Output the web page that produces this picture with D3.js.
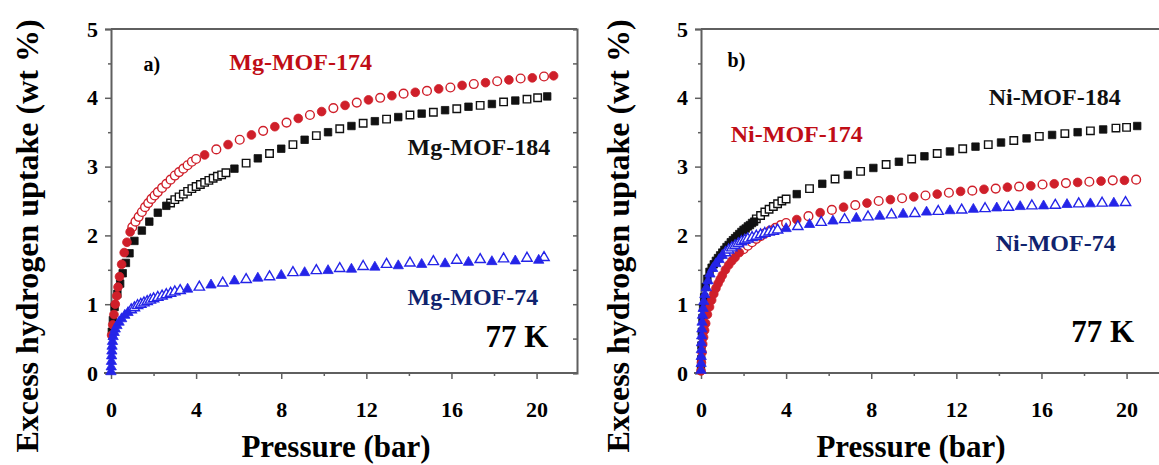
<!DOCTYPE html>
<html><head><meta charset="utf-8">
<script src="https://cdn.jsdelivr.net/npm/d3@7"></script>
<style>
html,body{margin:0;padding:0;background:#fff;}
svg{display:block;}
text{font-family:"Liberation Serif","Times New Roman",serif;font-weight:bold;}
</style></head><body>
<svg id="chart" width="1159" height="465"></svg>
<script>
// Excess H2 uptake at 77 K, [pressure (bar), uptake (wt %)]
// "Ads" points are drawn filled, "Des" points open.

// Panel a) Mg series
const mg174Ads = [[0.03,0.55],[0.08,0.7],[0.14,0.85],[0.2,1.0],[0.27,1.12],[0.33,1.25],[0.4,1.4],[0.5,1.58],[0.62,1.75],[0.75,1.9],[0.9,2.05],
  [4.4,3.17],[5.5,3.32],[6.6,3.46],[7.7,3.58],[8.8,3.7],[9.9,3.8],[11.0,3.89],[12.1,3.97],[13.2,4.03],[14.3,4.08],[15.4,4.13],[16.5,4.18],[17.6,4.22],[18.7,4.26],[19.8,4.29],[20.8,4.32]];
const mg174Des = [[1.0,2.12],[1.15,2.2],[1.3,2.27],[1.45,2.34],[1.6,2.41],[1.75,2.47],[1.9,2.53],[2.05,2.58],[2.2,2.63],[2.4,2.69],[2.6,2.75],[2.8,2.81],[3.0,2.87],[3.2,2.92],[3.4,2.97],[3.6,3.02],[3.8,3.07],[4.0,3.11],
  [4.95,3.25],[6.05,3.39],[7.15,3.52],[8.25,3.64],[9.35,3.75],[10.45,3.85],[11.55,3.93],[12.65,4.0],[13.75,4.06],[14.85,4.1],[15.95,4.15],[17.05,4.2],[18.15,4.24],[19.25,4.28],[20.35,4.31]];

const mg184Ads = [[0.04,0.6],[0.09,0.77],[0.17,0.96],[0.3,1.15],[0.43,1.3],[0.55,1.45],[0.7,1.6],[0.87,1.74],[1.1,1.92],[1.45,2.07],[1.8,2.2],[2.2,2.33],[2.6,2.43],
  [5.8,2.97],[6.9,3.12],[8.0,3.26],[9.1,3.39],[10.2,3.5],[11.3,3.59],[12.4,3.66],[13.5,3.72],[14.6,3.77],[15.7,3.82],[16.8,3.87],[17.9,3.91],[19.0,3.96],[20.5,4.02]];
const mg184Des = [[2.8,2.47],[3.0,2.52],[3.2,2.56],[3.4,2.6],[3.6,2.64],[3.8,2.68],[4.0,2.71],[4.2,2.74],[4.4,2.77],[4.6,2.8],[4.8,2.83],[5.0,2.86],[5.2,2.88],[5.4,2.91],
  [6.35,3.05],[7.45,3.19],[8.55,3.32],[9.65,3.45],[10.75,3.55],[11.85,3.63],[12.95,3.69],[14.05,3.75],[15.15,3.79],[16.25,3.84],[17.35,3.89],[18.45,3.94],[19.55,3.98],[20.05,4.0]];

const mg74Ads = [[0.0,0.03],[0.01,0.1],[0.02,0.18],[0.03,0.26],[0.04,0.33],[0.05,0.4],[0.07,0.47],[0.1,0.54],[0.15,0.6],[0.2,0.65],[0.28,0.7],[0.38,0.75],[0.5,0.8],[0.65,0.85],[0.8,0.89],
  [3.6,1.23],[4.7,1.29],[5.8,1.35],[6.9,1.39],[8.0,1.43],[9.1,1.47],[10.2,1.5],[11.3,1.52],[12.4,1.55],[13.5,1.57],[14.6,1.59],[15.7,1.6],[16.8,1.62],[17.9,1.63],[19.0,1.64],[20.1,1.65]];
const mg74Des = [[0.95,0.93],[1.1,0.96],[1.25,0.99],[1.4,1.01],[1.55,1.03],[1.7,1.05],[1.85,1.07],[2.0,1.09],[2.2,1.11],[2.4,1.13],[2.6,1.15],[2.8,1.17],[3.0,1.19],[3.25,1.21],
  [4.15,1.26],[5.25,1.32],[6.35,1.37],[7.45,1.41],[8.55,1.47],[9.65,1.5],[10.75,1.53],[11.85,1.56],[12.95,1.59],[14.05,1.61],[15.15,1.63],[16.25,1.65],[17.35,1.66],[18.45,1.67],[19.55,1.68],[20.35,1.69]];

// Panel b) Ni series
const ni184Ads = [[0.0,0.05],[0.01,0.2],[0.02,0.4],[0.04,0.6],[0.07,0.8],[0.1,0.95],[0.15,1.1],[0.22,1.25],[0.3,1.37],[0.4,1.47],[0.5,1.53],[0.6,1.58],[0.7,1.63],[0.8,1.67],[0.9,1.71],[1.0,1.75],[1.1,1.79],[1.2,1.83],[1.3,1.86],[1.4,1.9],[1.5,1.93],[1.6,1.96],[1.7,1.99],[1.8,2.02],[1.9,2.05],[2.0,2.08],[2.1,2.1],[2.2,2.13],[2.3,2.15],[2.4,2.18],[2.5,2.2],
  [4.5,2.6],[5.7,2.75],[6.9,2.88],[8.1,2.98],[9.3,3.07],[10.5,3.15],[11.7,3.22],[12.9,3.29],[14.1,3.35],[15.3,3.41],[16.5,3.46],[17.7,3.5],[18.9,3.54],[20.5,3.59]];
const ni184Des = [[2.6,2.24],[2.8,2.29],[3.0,2.34],[3.2,2.38],[3.4,2.42],[3.6,2.46],[3.8,2.5],[4.0,2.53],
  [5.1,2.68],[6.3,2.82],[7.5,2.93],[8.7,3.03],[9.9,3.11],[11.1,3.19],[12.3,3.26],[13.5,3.32],[14.7,3.38],[15.9,3.44],[17.1,3.48],[18.3,3.52],[19.5,3.56],[20.0,3.57]];

const ni174Ads = [[0.0,0.03],[0.02,0.15],[0.05,0.3],[0.08,0.42],[0.12,0.52],[0.17,0.62],[0.22,0.72],[0.3,0.85],[0.4,0.96],[0.5,1.06],[0.6,1.15],[0.7,1.23],[0.8,1.3],[0.9,1.36],[1.0,1.42],[1.15,1.5],[1.3,1.57],[1.45,1.63],[1.6,1.68],[1.8,1.75],
  [4.5,2.23],[5.6,2.33],[6.7,2.41],[7.8,2.47],[8.9,2.52],[10.0,2.56],[11.1,2.6],[12.2,2.64],[13.3,2.67],[14.4,2.7],[15.5,2.72],[16.6,2.75],[17.7,2.77],[18.8,2.79],[19.9,2.8]];
const ni174Des = [[2.0,1.8],[2.2,1.85],[2.4,1.9],[2.6,1.95],[2.8,1.99],[3.0,2.03],[3.25,2.07],[3.5,2.11],[3.75,2.15],[4.0,2.18],
  [5.05,2.28],[6.15,2.37],[7.25,2.44],[8.35,2.5],[9.45,2.54],[10.55,2.58],[11.65,2.62],[12.75,2.65],[13.85,2.68],[14.95,2.71],[16.05,2.74],[17.15,2.76],[18.25,2.78],[19.35,2.8],[20.45,2.81]];

const ni74Ads = [[0.0,0.05],[0.005,0.15],[0.01,0.25],[0.015,0.35],[0.02,0.45],[0.03,0.55],[0.04,0.65],[0.05,0.75],[0.07,0.85],[0.1,0.95],[0.13,1.05],[0.18,1.15],[0.25,1.25],[0.33,1.35],[0.42,1.45],[0.55,1.53],[0.7,1.6],[0.85,1.66],[1.0,1.72],
  [4.0,2.11],[5.1,2.17],[6.2,2.22],[7.3,2.26],[8.4,2.29],[9.5,2.32],[10.6,2.35],[11.7,2.37],[12.8,2.39],[13.9,2.41],[15.0,2.43],[16.1,2.44],[17.2,2.46],[18.3,2.47],[19.4,2.48]];
const ni74Des = [[1.15,1.76],[1.3,1.8],[1.45,1.83],[1.6,1.86],[1.75,1.89],[1.9,1.92],[2.05,1.94],[2.2,1.96],[2.4,1.98],[2.6,2.0],[2.8,2.02],[3.0,2.04],[3.2,2.06],[3.4,2.07],[3.6,2.09],
  [4.55,2.14],[5.65,2.2],[6.75,2.24],[7.85,2.28],[8.95,2.31],[10.05,2.33],[11.15,2.36],[12.25,2.38],[13.35,2.4],[14.45,2.42],[15.55,2.44],[16.65,2.45],[17.75,2.47],[18.85,2.48],[19.95,2.49]];

// Axis ticks and text
const pressureTicks = [0, 4, 8, 12, 16, 20];
const pressureMinorTicks = [2, 6, 10, 14, 18];
const uptakeTicks = [0, 1, 2, 3, 4, 5];
const uptakeMinorTicks = [0.5, 1.5, 2.5, 3.5, 4.5];
const xTitle = "Pressure (bar)";
const yTitle = "Excess hydrogen uptake (wt %)";
const tempLabel = "77 K";

// ---- styling / layout ----
const RED = "#cf1f2a", BLACK = "#111111", BLUE = "#2424e8";
const RED_TXT = "#c00d16", NAVY_TXT = "#10236e";
const AXIS = "#5f5f5f";

const panels = [
  { x0: 111, tag: "a)", tagAt: [1.53, 4.39], xTitleX: 336, yTitleX: 38, rightFrame: true,
    series: [
      { ads: mg184Ads, des: mg184Des, shape: "square", color: BLACK },
      { ads: mg174Ads, des: mg174Des, shape: "circle", color: RED },
      { ads: mg74Ads,  des: mg74Des,  shape: "triangle", color: BLUE }
    ],
    labels: [
      { text: "Mg-MOF-174", at: [5.56, 4.4], color: RED_TXT },
      { text: "Mg-MOF-184", at: [13.94, 3.17], color: BLACK },
      { text: "Mg-MOF-74",  at: [13.94, 0.99], color: NAVY_TXT }
    ],
    tempAt: [17.6, 0.38] },
  { x0: 701, tag: "b)", tagAt: [1.25, 4.45], xTitleX: 911, yTitleX: 629, rightFrame: false,
    series: [
      { ads: ni184Ads, des: ni184Des, shape: "square", color: BLACK },
      { ads: ni174Ads, des: ni174Des, shape: "circle", color: RED },
      { ads: ni74Ads,  des: ni74Des,  shape: "triangle", color: BLUE }
    ],
    labels: [
      { text: "Ni-MOF-184", at: [13.52, 3.9], color: BLACK },
      { text: "Ni-MOF-174", at: [1.4, 3.36], color: RED_TXT },
      { text: "Ni-MOF-74",  at: [13.85, 1.77], color: NAVY_TXT }
    ],
    tempAt: [17.4, 0.45] }
];

const PLOT_W = 466, Y_TOP = 29, Y_BOT = 373;
const svg = d3.select("#chart");

const symbolFor = {
  square: d3.symbol().type(d3.symbolSquare).size(56),
  circle: d3.symbol().type(d3.symbolCircle).size(60),
  triangle: d3.symbol().type(d3.symbolTriangle).size(46)
};

panels.forEach(p => {
  const x = d3.scaleLinear().domain([0, 21.9]).range([p.x0, p.x0 + PLOT_W]);
  const y = d3.scaleLinear().domain([0, 5]).range([Y_BOT, Y_TOP]);
  const g = svg.append("g");

  // frame: top and (optionally) right edges
  g.append("line").attr("x1", p.x0).attr("x2", p.x0 + PLOT_W).attr("y1", Y_TOP).attr("y2", Y_TOP)
    .attr("stroke", AXIS).attr("stroke-width", 2);
  if (p.rightFrame) {
    const rf = g.append("g").attr("transform", `translate(${p.x0 + PLOT_W},0)`);
    rf.call(d3.axisLeft(y).tickValues(uptakeTicks.concat(uptakeMinorTicks)).tickSize(4).tickFormat(""));
    rf.select(".domain").attr("stroke", AXIS).attr("stroke-width", 2);
    rf.selectAll(".tick line").attr("stroke", AXIS).attr("stroke-width", 1.5);
  }

  // bottom axis
  const gx = g.append("g").attr("transform", `translate(0,${Y_BOT})`);
  gx.call(d3.axisBottom(x).tickValues(pressureTicks).tickSize(6).tickPadding(22).tickFormat(d3.format("d")));
  gx.append("g").call(d3.axisBottom(x).tickValues(pressureMinorTicks).tickSize(3).tickFormat(""))
    .select(".domain").remove();
  gx.selectAll(".domain").attr("stroke", AXIS).attr("stroke-width", 2)
    .attr("d", `M${p.x0 - 7},0H${p.x0 + PLOT_W}`);
  gx.selectAll(".tick line").attr("stroke", AXIS).attr("stroke-width", 1.5);
  gx.selectAll(".tick text").attr("font-size", 22).attr("fill", "#000")
    .attr("font-family", "Liberation Serif").attr("font-weight", "bold");

  // left axis
  const gy = g.append("g").attr("transform", `translate(${p.x0},0)`);
  gy.call(d3.axisLeft(y).tickValues(uptakeTicks).tickSize(6).tickPadding(7).tickFormat(d3.format("d")));
  gy.append("g").call(d3.axisLeft(y).tickValues(uptakeMinorTicks).tickSize(3).tickFormat(""))
    .select(".domain").remove();
  gy.selectAll(".domain").attr("stroke", AXIS).attr("stroke-width", 2);
  gy.selectAll(".tick line").attr("stroke", AXIS).attr("stroke-width", 1.5);
  gy.selectAll(".tick text").attr("font-size", 22).attr("fill", "#000")
    .attr("font-family", "Liberation Serif").attr("font-weight", "bold");

  // markers
  p.series.forEach(s => {
    const sym = symbolFor[s.shape];
    const dy = s.shape === "triangle" ? 0.8 : 0;
    g.append("g").selectAll("path").data(s.des).join("path")
      .attr("d", sym)
      .attr("transform", d => `translate(${x(d[0])},${y(d[1]) + dy})`)
      .attr("fill", "#fff").attr("stroke", s.color).attr("stroke-width", 1.4);
    g.append("g").selectAll("path").data(s.ads).join("path")
      .attr("d", sym)
      .attr("transform", d => `translate(${x(d[0])},${y(d[1]) + dy})`)
      .attr("fill", s.color).attr("stroke", s.color).attr("stroke-width", 0.8);
  });

  // annotations
  g.append("text").attr("x", x(p.tagAt[0])).attr("y", y(p.tagAt[1]))
    .attr("font-size", 20).attr("fill", "#000").text(p.tag);
  p.labels.forEach(l => {
    g.append("text").attr("x", x(l.at[0])).attr("y", y(l.at[1]))
      .attr("font-size", 24).attr("fill", l.color).text(l.text);
  });
  g.append("text").attr("x", x(p.tempAt[0])).attr("y", y(p.tempAt[1]))
    .attr("font-size", 31).attr("fill", "#000").text(tempLabel);

  // axis titles
  g.append("text").attr("x", p.xTitleX).attr("y", 457).attr("text-anchor", "middle")
    .attr("font-size", 31).attr("fill", "#000").text(xTitle);
  g.append("text").attr("transform", `translate(${p.yTitleX},236) rotate(-90)`)
    .attr("text-anchor", "middle").attr("font-size", 32).attr("fill", "#000").text(yTitle);
});
</script>
</body></html>
